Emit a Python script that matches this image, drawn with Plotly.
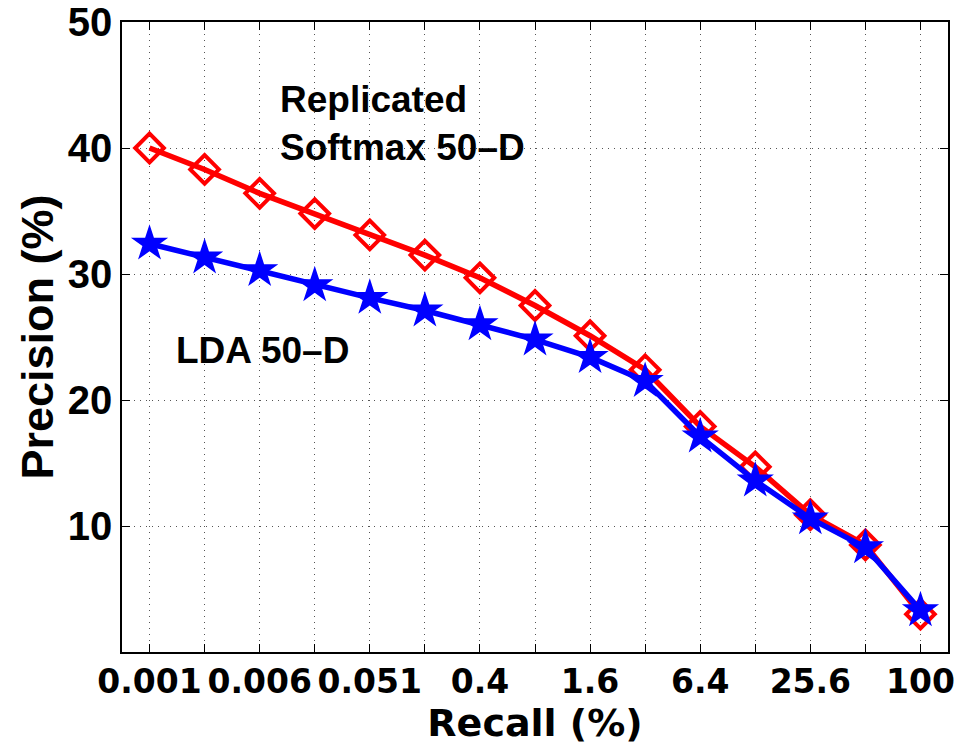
import plotly.graph_objects as go

idx = list(range(1, 16))
tick_labels = ["0.001", "", "0.006", "", "0.051", "", "0.4", "", "1.6", "", "6.4", "", "25.6", "", "100"]
y_ticks = [10, 20, 30, 40, 50]
softmax = [40.0, 38.3, 36.4, 34.8, 33.1, 31.5, 29.7, 27.5, 25.1, 22.4, 17.9, 14.7, 10.9, 8.5, 3.0]
lda = [32.4, 31.3, 30.3, 29.1, 28.1, 27.1, 26.0, 24.8, 23.4, 21.5, 17.1, 13.6, 10.6, 8.3, 3.3]

fig = go.Figure()
fig.add_trace(go.Scatter(x=idx, y=softmax, mode="lines+markers",
                         line=dict(color="#ff0000", width=5.5),
                         marker=dict(symbol="diamond-open", size=22, color="#ff0000",
                                     line=dict(width=4, color="#ff0000")),
                         showlegend=False))
fig.add_trace(go.Scatter(x=idx, y=lda, mode="lines+markers",
                         line=dict(color="#0000ff", width=5.5),
                         marker=dict(symbol="star", size=28, color="#0000ff",
                                     line=dict(width=0)),
                         showlegend=False))

ann_font = dict(family="Liberation Sans", size=37, color="black", weight="bold")
fig.add_annotation(x=3.34, y=41.95, xref="x", yref="y", xanchor="left", yanchor="middle",
                   text="Replicated<br>Softmax 50–D", showarrow=False, align="left", font=ann_font)
fig.add_annotation(x=1.45, y=23.9, xref="x", yref="y", xanchor="left", yanchor="middle",
                   text="LDA 50–D", showarrow=False, align="left", font=ann_font)

fig.update_xaxes(range=[0.5, 15.5], tickmode="array", tickvals=idx, ticktext=tick_labels,
                 tickangle=0,
                 ticks="inside", ticklen=8, tickcolor="black", mirror="ticks",
                 showline=True, linecolor="black", linewidth=1.5, automargin=False,
                 showgrid=True, gridcolor="#555555", griddash="1px,5px", gridwidth=1,
                 zeroline=False,
                 tickfont=dict(family="DejaVu Sans", size=33, color="black", weight="bold"),
                 title=dict(text="Recall (%)", standoff=0,
                            font=dict(family="DejaVu Sans", size=38, color="black", weight="bold")))
fig.update_yaxes(range=[0, 50], tickmode="array", tickvals=y_ticks,
                 ticks="inside", ticklen=8, tickcolor="black", mirror="ticks",
                 showline=True, linecolor="black", linewidth=1.5, automargin=False,
                 showgrid=True, gridcolor="#555555", griddash="1px,5px", gridwidth=1,
                 zeroline=False,
                 tickfont=dict(family="Liberation Sans", size=40, color="black", weight="bold"),
                 title=dict(text="Precision (%)", standoff=0,
                            font=dict(family="Liberation Sans", size=45, color="black", weight="bold")))

fig.update_layout(width=958, height=746, margin=dict(l=122, r=10, t=22, b=94),
                  plot_bgcolor="white", paper_bgcolor="white")
fig.write_html("out.html", config={"displayModeBar": False},
               post_script="document.body.style.margin='0';")
